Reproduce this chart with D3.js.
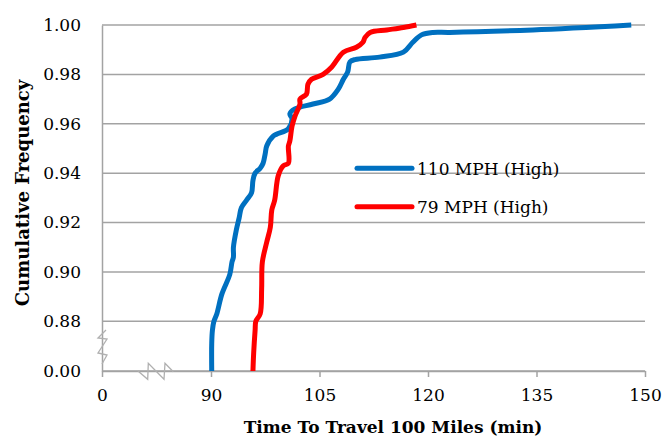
<!DOCTYPE html>
<html>
<head>
<meta charset="utf-8">
<title>Cumulative Frequency - Time To Travel 100 Miles</title>
<script src="https://cdn.jsdelivr.net/npm/d3@7"></script>
<style>
  body { margin: 0; background: #fff; }
  text { font-family: "DejaVu Serif", "Liberation Serif", serif; fill: #000; }
  .grid line { stroke: #a3a3a3; stroke-width: 1.5; }
  .axis path, .axis line { stroke: #a3a3a3; stroke-width: 1.5; }
</style>
</head>
<body>
<script>
// tick values
var xTicks = [0, 90, 105, 120, 135, 150];
var yTicks = [0, 0.88, 0.90, 0.92, 0.94, 0.96, 0.98, 1.00];

// series: travel time (min) and cumulative frequency
var seriesNames = ["110 MPH (High)", "79 MPH (High)"];
var seriesColors = ["#0070C0", "#FF0000"];

var time110 = [90.1, 90.1, 90.2, 90.4, 90.8, 91.5, 92.6, 92.9, 93.1, 93.1, 93.5, 93.9, 94.2, 94.9, 95.6, 95.8,
  96.1, 96.8, 97.2, 97.5, 97.7, 98.6, 100.7, 101.2, 100.9, 101.6, 104.1, 106.4, 107.6, 108.3, 108.9, 109.2,
  109.9, 113.3, 116.6, 117.9, 119.1, 120.7, 123.0, 134.5, 148.1];
var freq110 = [0.000, 0.490, 0.726, 0.880, 0.883, 0.891, 0.899, 0.904, 0.906, 0.910, 0.917, 0.922, 0.926, 0.929, 0.932, 0.937,
  0.940, 0.942, 0.944, 0.948, 0.951, 0.955, 0.958, 0.962, 0.964, 0.966, 0.968, 0.970, 0.974, 0.978, 0.981, 0.985,
  0.986, 0.987, 0.989, 0.993, 0.996, 0.997, 0.997, 0.998, 1.000];

var time79 = [95.8, 95.9, 96.1, 96.2, 96.8, 97.0, 97.1, 97.7, 98.2, 98.4, 98.8, 99.3, 100.0, 100.7, 100.7, 100.9,
  101.2, 101.6, 102.3, 102.3, 103.2, 103.4, 103.9, 105.5, 106.7, 108.3, 110.1, 111.0, 111.3, 112.0, 114.3, 116.6, 118.4];
var freq79 = [0.000, 0.319, 0.726, 0.880, 0.883, 0.893, 0.904, 0.912, 0.918, 0.925, 0.929, 0.939, 0.943, 0.944, 0.951, 0.953,
  0.959, 0.963, 0.968, 0.970, 0.972, 0.976, 0.978, 0.980, 0.983, 0.989, 0.991, 0.993, 0.995, 0.997, 0.998, 0.999, 1.000];

var width = 670, height = 444;
var plotLeft = 102, plotRight = 645, plotTop = 25, plotBottom = 371;

var svg = d3.select("body").append("svg")
  .attr("width", width)
  .attr("height", height);

// broken axes: 0 -> 90 and 0.00 -> 0.88 each take one tick interval
var x = d3.scaleLinear().domain([0, 90, 150]).range([plotLeft, 211, plotRight]);
var y = d3.scaleLinear().domain([0, 0.88, 1.00]).range([plotBottom, 321.3, plotTop]);

// horizontal gridlines
svg.append("g").attr("class", "grid")
  .selectAll("line").data(yTicks).enter().append("line")
  .attr("x1", plotLeft).attr("x2", plotRight)
  .attr("y1", function(d) { return y(d); })
  .attr("y2", function(d) { return y(d); });

// x axis
var xAxis = d3.axisBottom(x).tickValues(xTicks).tickSize(6).tickSizeOuter(0)
  .tickFormat(d3.format("d"));
var gx = svg.append("g").attr("class", "axis")
  .attr("transform", "translate(0," + plotBottom + ")")
  .call(xAxis);
gx.selectAll("text").attr("font-size", 17).attr("dy", "1.25em");

// y axis
var yAxis = d3.axisLeft(y).tickValues(yTicks).tickSize(0).tickSizeOuter(0)
  .tickFormat(d3.format(".2f"));
var gy = svg.append("g").attr("class", "axis")
  .attr("transform", "translate(" + plotLeft + ",0)")
  .call(yAxis);
gy.selectAll("text").attr("font-size", 17).attr("x", -21);

// axis break marks
var brk = [
  [[106, 330], [98, 338], [107, 339], [98, 353], [107, 355], [102, 364]],
  [[138, 371], [147.7, 379.3], [148.3, 363.3], [164, 379.3], [165, 363.3], [173.3, 371.7]]
];
svg.selectAll(".brk").data(brk).enter().append("path")
  .attr("class", "brk")
  .attr("d", d3.line())
  .attr("fill", "none")
  .attr("stroke", "#b0b0b0")
  .attr("stroke-width", 1.3);

// lines
var line = d3.line()
  .x(function(d) { return x(d[0]); })
  .y(function(d) { return y(d[1]); })
  .curve(d3.curveCatmullRom.alpha(0.5));

var series = [d3.zip(time110, freq110), d3.zip(time79, freq79)];
svg.selectAll(".series").data(series).enter().append("path")
  .attr("class", "series")
  .attr("d", line)
  .attr("fill", "none")
  .attr("stroke", function(d, i) { return seriesColors[i]; })
  .attr("stroke-width", 5)
  .attr("stroke-linejoin", "round");

// legend
var legend = svg.selectAll(".legend").data(seriesNames).enter().append("g")
  .attr("class", "legend")
  .attr("transform", function(d, i) { return "translate(357," + (168.3 + i * 38.4) + ")"; });
legend.append("line")
  .attr("x1", 0).attr("x2", 55)
  .attr("stroke", function(d, i) { return seriesColors[i]; })
  .attr("stroke-width", 5)
  .attr("stroke-linecap", "round");
legend.append("text")
  .attr("x", 60).attr("y", 6.5)
  .attr("font-size", 17)
  .text(function(d) { return d; });

// axis titles
svg.append("text")
  .attr("x", 393).attr("y", 433)
  .attr("text-anchor", "middle")
  .attr("font-size", 17)
  .attr("font-weight", "bold")
  .text("Time To Travel 100 Miles (min)");

svg.append("text")
  .attr("transform", "translate(29,193) rotate(-90)")
  .attr("text-anchor", "middle")
  .attr("font-size", 18)
  .attr("font-weight", "bold")
  .text("Cumulative Frequency");
</script>
</body>
</html>
